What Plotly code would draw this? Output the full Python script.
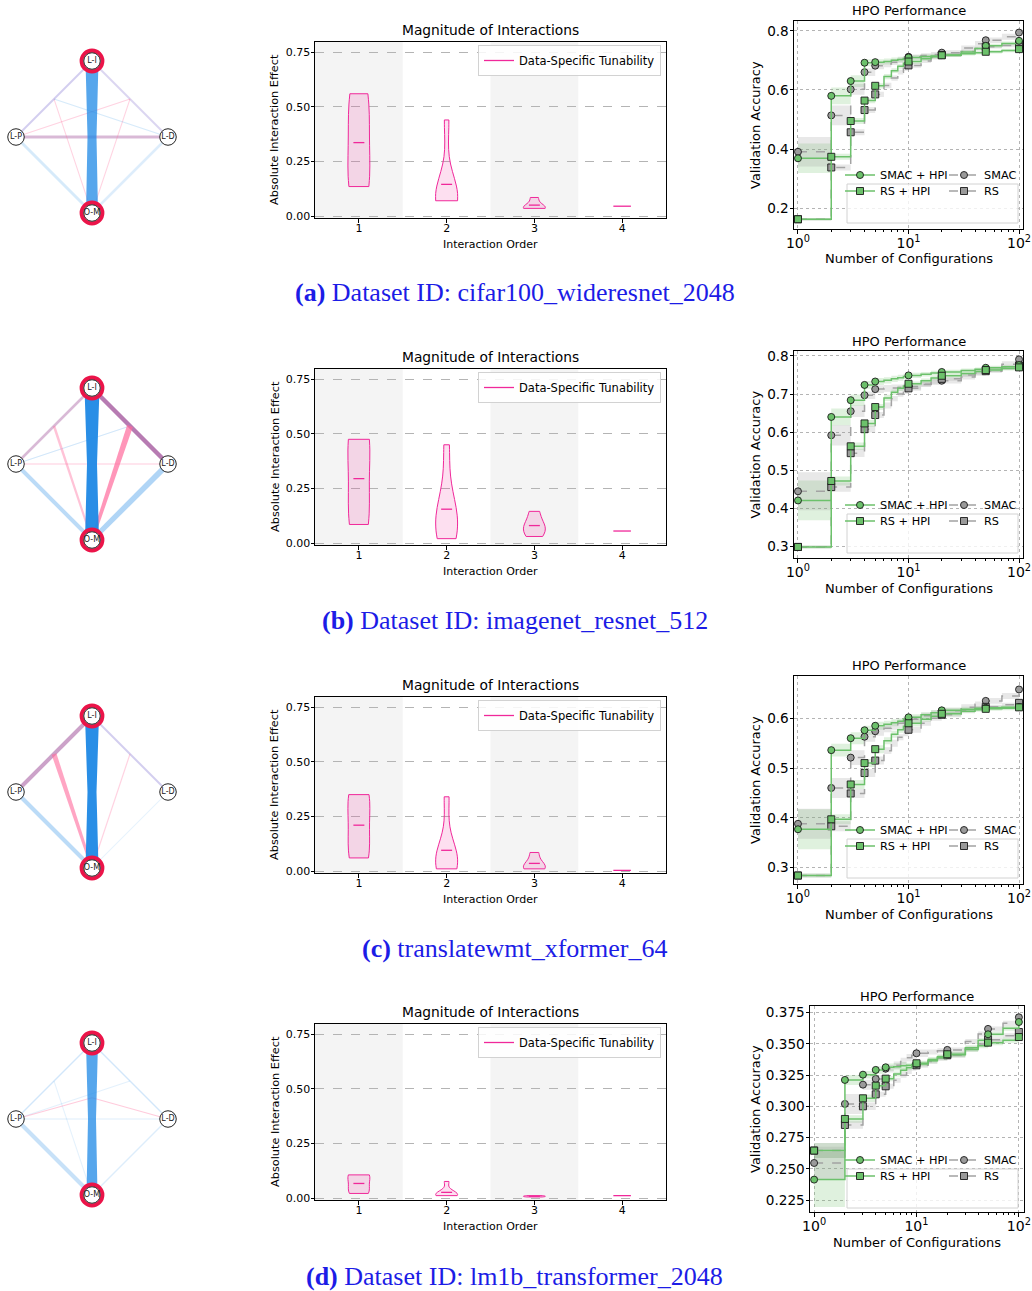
import numpy as np
import plotly.graph_objects as go

W, H = 1032, 1291

# ================= DATA =================
# --- interaction graphs ---
hyperparams = ["L-I", "L-P", "L-D", "O-M"]
highlighted = ["L-I", "O-M"]
# edge: (end A, end B, strength at A, strength mid, strength at B, colour key, opacity)
# "X+Y" = midpoint of X and Y ; "X>Y@t" = point at fraction t from X to Y
edges_a = [
    ("L-P", "O-M", 3, 3, 3, "blue", 0.18),
    ("L-D", "O-M", 2.5, 2.5, 2.5, "blue", 0.15),
    ("L-I", "L-P", 2, 2, 2, "lav", 0.55),
    ("L-I", "L-D", 2, 2, 2, "lav", 0.45),
    ("L-P", "L-D", 3, 3, 3, "purple", 0.45),
    ("L-I+L-P", "O-M", 1, 1, 1, "pink", 0.3),
    ("L-I+L-D", "O-M", 1, 1, 1, "pink", 0.3),
    ("L-P", "L-I+L-D", 1, 1, 1, "pink", 0.3),
    ("L-I+L-P", "L-D", 1, 1, 1, "blue", 0.18),
    ("L-I", "O-M", 13, 9, 12, "blue", 0.75),
]
edges_b = [
    ("L-P", "O-M", 4, 4, 4, "blue", 0.3),
    ("L-D", "O-M", 6, 5, 5, "blue", 0.35),
    ("L-P", "L-D", 1.2, 1.2, 1.2, "pink", 0.35),
    ("L-P", "L-I+L-D", 1.2, 1.2, 1.2, "blue", 0.2),
    ("L-I", "L-P", 2.5, 2.5, 2.5, "purple", 0.45),
    ("L-I+L-P", "O-M", 2.5, 2.5, 2, "pink", 0.4),
    ("L-I", "L-D", 4.5, 4.5, 4.5, "purple", 0.85),
    ("L-I+L-D", "O-M", 6, 4.5, 3, "pink", 0.7),
    ("L-I", "O-M", 15, 10, 14, "blue", 0.95),
]
edges_c = [
    ("L-D", "O-M", 1, 1, 1, "blue", 0.12),
    ("L-P", "O-M", 4, 4, 4, "blue", 0.3),
    ("L-I", "L-D", 2, 2, 2, "lav", 0.55),
    ("L-I+L-D", "O-M", 1.2, 1.2, 1.2, "pink", 0.3),
    ("L-I", "L-P", 4, 4, 4, "purple", 0.6),
    ("L-I+L-P", "O-M", 5, 3.5, 2.5, "pink", 0.6),
    ("L-I", "O-M", 14, 9, 13, "blue", 0.95),
]
edges_d = [
    ("L-P", "O-M", 4, 4, 4, "blue", 0.25),
    ("L-I", "L-P", 1.5, 1.5, 1.5, "blue", 0.2),
    ("L-I", "L-D", 1.5, 1.5, 1.5, "blue", 0.2),
    ("L-D", "O-M", 1.5, 1.5, 1.5, "blue", 0.15),
    ("L-P", "L-D", 1.2, 1.2, 1.2, "blue", 0.15),
    ("L-P", "L-I+L-D", 1, 1, 1, "blue", 0.12),
    ("L-I+L-P", "O-M", 1, 1, 1, "blue", 0.12),
    ("L-P", "L-I>O-M@0.36", 1.2, 1.2, 1.2, "pink", 0.35),
    ("L-D", "L-I>O-M@0.36", 1.2, 1.2, 1.2, "pink", 0.35),
    ("L-I", "O-M", 12, 8, 11, "blue", 0.75),
]

# --- magnitude of interactions (values per interaction order) ---
orders = [1, 2, 3, 4]
vio_a = [[0.135, 0.20, 0.45, 0.56], [0.07, 0.08, 0.09, 0.10, 0.09, 0.44], [0.035, 0.04, 0.04, 0.085], [0.045]]
vio_b = [[0.085, 0.17, 0.45, 0.475], [0.02, 0.05, 0.08, 0.13, 0.20, 0.45], [0.03, 0.07, 0.075, 0.145], [0.055]]
vio_c = [[0.06, 0.12, 0.31, 0.35], [0.01, 0.02, 0.04, 0.06, 0.10, 0.34], [0.01, 0.015, 0.03, 0.085], [0.003]]
vio_d = [[0.021, 0.04, 0.10, 0.106], [0.011, 0.012, 0.015, 0.018, 0.024, 0.076], [0.005, 0.007, 0.009, 0.011], [0.011]]

# --- HPO performance ---
configs = [1, 2, 3, 4, 5, 6, 7, 8, 9, 10, 13, 16, 20, 30, 40, 50, 70, 100]
marked_configs = [1, 2, 3, 4, 5, 10, 20, 50, 100]

smac_hpi_a = [0.369, 0.580, 0.630, 0.692, 0.694, 0.696, 0.700, 0.703, 0.706, 0.710, 0.713, 0.715, 0.718, 0.728, 0.740, 0.749, 0.757, 0.766]
smac_a     = [0.391, 0.514, 0.602, 0.660, 0.682, 0.688, 0.694, 0.700, 0.706, 0.712, 0.716, 0.720, 0.726, 0.742, 0.756, 0.768, 0.780, 0.794]
rs_hpi_a   = [0.163, 0.374, 0.495, 0.564, 0.614, 0.645, 0.665, 0.680, 0.690, 0.696, 0.705, 0.712, 0.717, 0.722, 0.726, 0.729, 0.733, 0.738]
rs_a       = [0.163, 0.338, 0.457, 0.532, 0.585, 0.615, 0.640, 0.660, 0.673, 0.683, 0.698, 0.710, 0.718, 0.730, 0.740, 0.746, 0.750, 0.754]
smac_hpi_a_err = [0.050, 0.028, 0.020, 0.012, 0.010, 0.010, 0.010, 0.009, 0.009, 0.008, 0.008, 0.007, 0.007, 0.007, 0.007, 0.007, 0.007, 0.007]
smac_a_err     = [0.050, 0.033, 0.018, 0.013, 0.012, 0.011, 0.010, 0.010, 0.009, 0.008, 0.008, 0.008, 0.008, 0.008, 0.009, 0.009, 0.010, 0.010]
rs_hpi_a_err   = [0.004, 0.010, 0.010, 0.009, 0.009, 0.009, 0.008, 0.008, 0.008, 0.008, 0.007, 0.007, 0.006, 0.006, 0.006, 0.006, 0.006, 0.006]
rs_a_err       = [0.004, 0.010, 0.010, 0.010, 0.009, 0.009, 0.009, 0.008, 0.008, 0.008, 0.007, 0.007, 0.006, 0.006, 0.006, 0.006, 0.006, 0.006]

smac_hpi_b = [0.421, 0.640, 0.684, 0.724, 0.733, 0.736, 0.740, 0.743, 0.746, 0.749, 0.752, 0.755, 0.758, 0.762, 0.765, 0.769, 0.772, 0.776]
smac_b     = [0.445, 0.592, 0.655, 0.697, 0.713, 0.715, 0.716, 0.717, 0.718, 0.720, 0.726, 0.731, 0.735, 0.745, 0.755, 0.765, 0.778, 0.791]
rs_hpi_b   = [0.299, 0.472, 0.563, 0.623, 0.666, 0.690, 0.705, 0.715, 0.721, 0.727, 0.735, 0.742, 0.748, 0.754, 0.759, 0.763, 0.767, 0.770]
rs_b       = [0.299, 0.456, 0.545, 0.608, 0.645, 0.670, 0.688, 0.700, 0.708, 0.715, 0.725, 0.733, 0.740, 0.750, 0.756, 0.760, 0.768, 0.775]
smac_hpi_b_err = [0.052, 0.022, 0.015, 0.010, 0.009, 0.008, 0.008, 0.008, 0.007, 0.007, 0.006, 0.006, 0.006, 0.005, 0.005, 0.005, 0.005, 0.005]
smac_b_err     = [0.050, 0.027, 0.015, 0.010, 0.010, 0.009, 0.009, 0.008, 0.008, 0.008, 0.007, 0.007, 0.007, 0.007, 0.007, 0.007, 0.008, 0.008]
rs_hpi_b_err   = [0.004, 0.012, 0.010, 0.009, 0.008, 0.008, 0.007, 0.007, 0.007, 0.006, 0.006, 0.006, 0.005, 0.005, 0.005, 0.005, 0.005, 0.005]
rs_b_err       = [0.004, 0.012, 0.010, 0.009, 0.008, 0.008, 0.007, 0.007, 0.007, 0.006, 0.006, 0.006, 0.005, 0.005, 0.005, 0.005, 0.005, 0.005]

smac_hpi_c = [0.377, 0.536, 0.560, 0.576, 0.585, 0.588, 0.591, 0.594, 0.598, 0.602, 0.607, 0.611, 0.616, 0.618, 0.620, 0.621, 0.622, 0.623]
smac_c     = [0.388, 0.460, 0.521, 0.563, 0.574, 0.580, 0.585, 0.590, 0.594, 0.598, 0.605, 0.610, 0.615, 0.622, 0.628, 0.635, 0.645, 0.658]
rs_hpi_c   = [0.284, 0.397, 0.467, 0.510, 0.538, 0.555, 0.568, 0.577, 0.584, 0.590, 0.598, 0.604, 0.609, 0.614, 0.617, 0.619, 0.620, 0.622]
rs_c       = [0.284, 0.383, 0.449, 0.490, 0.515, 0.535, 0.550, 0.562, 0.570, 0.577, 0.590, 0.600, 0.607, 0.615, 0.620, 0.623, 0.627, 0.631]
smac_hpi_c_err = [0.040, 0.013, 0.012, 0.009, 0.008, 0.007, 0.007, 0.006, 0.006, 0.006, 0.005, 0.005, 0.005, 0.005, 0.004, 0.004, 0.004, 0.004]
smac_c_err     = [0.030, 0.020, 0.015, 0.010, 0.009, 0.008, 0.008, 0.007, 0.007, 0.007, 0.006, 0.006, 0.006, 0.006, 0.006, 0.006, 0.006, 0.006]
rs_hpi_c_err   = [0.004, 0.010, 0.009, 0.008, 0.008, 0.007, 0.007, 0.006, 0.006, 0.006, 0.005, 0.005, 0.005, 0.004, 0.004, 0.004, 0.004, 0.004]
rs_c_err       = [0.004, 0.010, 0.009, 0.008, 0.008, 0.007, 0.007, 0.006, 0.006, 0.006, 0.005, 0.005, 0.005, 0.004, 0.004, 0.004, 0.004, 0.004]

smac_hpi_d = [0.2415, 0.3212, 0.3254, 0.3292, 0.3313, 0.3318, 0.3325, 0.3330, 0.3335, 0.3340, 0.3365, 0.3390, 0.3414, 0.3470, 0.3530, 0.3577, 0.3625, 0.3675]
smac_d     = [0.2548, 0.3020, 0.3174, 0.3220, 0.3302, 0.3330, 0.3360, 0.3390, 0.3410, 0.3425, 0.3435, 0.3445, 0.3452, 0.3520, 0.3580, 0.3620, 0.3665, 0.3713]
rs_hpi_d   = [0.2647, 0.2900, 0.3065, 0.3166, 0.3222, 0.3260, 0.3290, 0.3310, 0.3330, 0.3345, 0.3375, 0.3398, 0.3417, 0.3455, 0.3485, 0.3510, 0.3530, 0.3555]
rs_d       = [0.2647, 0.2852, 0.3001, 0.3097, 0.3161, 0.3210, 0.3250, 0.3280, 0.3305, 0.3329, 0.3360, 0.3385, 0.3409, 0.3460, 0.3500, 0.3534, 0.3565, 0.3595]
smac_hpi_d_err = [0.022, 0.004, 0.003, 0.003, 0.003, 0.003, 0.003, 0.002, 0.002, 0.002, 0.002, 0.002, 0.002, 0.002, 0.002, 0.002, 0.002, 0.002]
smac_d_err     = [0.013, 0.008, 0.004, 0.003, 0.003, 0.003, 0.003, 0.003, 0.003, 0.003, 0.002, 0.002, 0.002, 0.002, 0.002, 0.002, 0.002, 0.002]
rs_hpi_d_err   = [0.006, 0.003, 0.003, 0.002, 0.002, 0.002, 0.002, 0.002, 0.002, 0.002, 0.002, 0.002, 0.002, 0.002, 0.002, 0.002, 0.002, 0.002]
rs_d_err       = [0.006, 0.003, 0.003, 0.002, 0.002, 0.002, 0.002, 0.002, 0.002, 0.002, 0.002, 0.002, 0.002, 0.002, 0.002, 0.002, 0.002, 0.002]

series_names = ["SMAC + HPI", "SMAC", "RS + HPI", "RS"]
captions = [
    "<b>(a)</b> Dataset ID: cifar100_wideresnet_2048",
    "<b>(b)</b> Dataset ID: imagenet_resnet_512",
    "<b>(c)</b> translatewmt_xformer_64",
    "<b>(d)</b> Dataset ID: lm1b_transformer_2048",
]

rows = [
    dict(edges=edges_a, vio=vio_a, hpo=[smac_hpi_a, smac_a, rs_hpi_a, rs_a],
         err=[smac_hpi_a_err, smac_a_err, rs_hpi_a_err, rs_a_err]),
    dict(edges=edges_b, vio=vio_b, hpo=[smac_hpi_b, smac_b, rs_hpi_b, rs_b],
         err=[smac_hpi_b_err, smac_b_err, rs_hpi_b_err, rs_b_err]),
    dict(edges=edges_c, vio=vio_c, hpo=[smac_hpi_c, smac_c, rs_hpi_c, rs_c],
         err=[smac_hpi_c_err, smac_c_err, rs_hpi_c_err, rs_c_err]),
    dict(edges=edges_d, vio=vio_d, hpo=[smac_hpi_d, smac_d, rs_hpi_d, rs_d],
         err=[smac_hpi_d_err, smac_d_err, rs_hpi_d_err, rs_d_err]),
]

# ================= LAYOUT / STYLE =================
FONT = "DejaVu Sans"
SERIF = "Liberation Serif, Times New Roman, serif"
PINK = "#f0289a"
PINK_FILL = "rgba(240,40,154,0.15)"
GREEN = "#6cc16b"
GREEN_BAND = "rgba(108,193,107,0.22)"
GRAY = "#a3a3a3"
GRAY_MK = "#9a9a9a"
GRAY_BAND = "rgba(150,150,150,0.22)"
EDGE_RGB = {"blue": (30, 136, 229), "pink": (255, 105, 155), "purple": (170, 100, 165),
            "lav": (175, 165, 225)}

row_off = [0, 327, 655, 982]          # network + violin panels
hpo_top = [21, 351, 676, 1006]
hpo_bot = [229, 558, 884, 1212]
hpo_x = [(794, 1023), (794, 1023), (794, 1023), (810, 1024)]
hpo_xr = [(-0.036, 2.036)] * 3 + [(-0.04, 2.05)]
hpo_yr = [(0.13, 0.833), (0.270, 0.813), (0.267, 0.685), (0.2156, 0.3803)]
hpo_dtick = [(0.2, 0.2, ".1f"), (0.1, 0.3, ".1f"), (0.1, 0.3, ".1f"), (0.025, 0.225, ".3f")]
cap_y = [293, 620, 948, 1276]

# pull tick labels slightly closer to the axes (if this plotly version allows it)
try:
    go.layout.XAxis(ticklabelstandoff=-3)
    VX, VY, HX = {"ticklabelstandoff": -4}, {"ticklabelstandoff": -2}, {"ticklabelstandoff": -2}
except Exception:
    VX, VY, HX = {}, {}, {}


def px(xp):
    return xp / W


def py(yp):
    return 1 - yp / H


def axname(n):
    return "" if n == 1 else str(n)


fig = go.Figure()
layout = dict(width=W, height=H, margin=dict(l=0, r=0, t=0, b=0, autoexpand=False),
              paper_bgcolor="white", plot_bgcolor="white", violinmode="overlay",
              font=dict(family=FONT, color="black", size=11), hovermode=False)
shapes, annotations = [], []

for r, row in enumerate(rows):
    off = row_off[r]
    nN, nV, nH = 3 * r + 1, 3 * r + 2, 3 * r + 3
    xN, yN = "x" + axname(nN), "y" + axname(nN)
    xV, yV = "x" + axname(nV), "y" + axname(nV)
    xH, yH = "x" + axname(nH), "y" + axname(nH)
    lg0 = 5 * r + 1
    lgV = "legend" + axname(lg0)

    # ---------- network ----------
    layout["xaxis" + axname(nN)] = dict(domain=[0, px(186)], range=[0, 186], visible=False,
                                        anchor=yN, fixedrange=True, automargin=False)
    layout["yaxis" + axname(nN)] = dict(domain=[py(off + 236), py(off + 36)],
                                        range=[off + 236, off + 36], visible=False,
                                        anchor=xN, fixedrange=True, automargin=False)
    cx, cy, R = 92.0, 137.0 + off, 76.0
    ang = {"L-I": 90, "L-P": 180, "L-D": 0, "O-M": 270}
    pos = {h: np.array([cx + R * np.cos(np.radians(ang[h])), cy - R * np.sin(np.radians(ang[h]))])
           for h in hyperparams}

    def point(spec):
        if ">" in spec:
            ab, t = spec.split("@")
            a, b = ab.split(">")
            return pos[a] + float(t) * (pos[b] - pos[a])
        if "+" in spec:
            a, b = spec.split("+")
            return (pos[a] + pos[b]) / 2
        return pos[spec]

    for (ea, eb, wa, wm, wb, ck, al) in row["edges"]:
        p, q = point(ea), point(eb)
        d = q - p
        nrm = np.array([-d[1], d[0]]) / np.hypot(*d)
        m = (p + q) / 2
        pts = [p + nrm * wa / 2, m + nrm * wm / 2, q + nrm * wb / 2,
               q - nrm * wb / 2, m - nrm * wm / 2, p - nrm * wa / 2, p + nrm * wa / 2]
        c = EDGE_RGB[ck]
        fig.add_trace(go.Scatter(x=[t[0] for t in pts], y=[t[1] for t in pts], mode="lines",
                                 fill="toself", fillcolor=f"rgba({c[0]},{c[1]},{c[2]},{al})",
                                 line=dict(width=0), xaxis=xN, yaxis=yN, showlegend=False,
                                 hoverinfo="skip"))
    hl = [h for h in hyperparams if h in highlighted]
    fig.add_trace(go.Scatter(x=[pos[h][0] for h in hl], y=[pos[h][1] for h in hl], mode="markers",
                             marker=dict(size=21, color="white", line=dict(color="#eb1449", width=3.8)),
                             xaxis=xN, yaxis=yN, showlegend=False, hoverinfo="skip"))
    fig.add_trace(go.Scatter(x=[pos[h][0] for h in hyperparams], y=[pos[h][1] for h in hyperparams],
                             mode="markers+text", text=hyperparams, textposition="middle center",
                             textfont=dict(size=8, family=FONT, color="#222"),
                             marker=dict(size=16.5, color="white", line=dict(color="#222", width=1)),
                             xaxis=xN, yaxis=yN, showlegend=False, hoverinfo="skip"))

    # ---------- violin ----------
    layout["xaxis" + axname(nV)] = dict(domain=[px(315), px(666)], range=[0.5, 4.5], type="linear",
                                        anchor=yV, tickmode="array", tickvals=orders,
                                        ticks="outside", ticklen=3.5, tickcolor="black",
                                        showline=True, linecolor="black", linewidth=1, mirror=True,
                                        showgrid=False, zeroline=False, automargin=False,
                                        tickfont=dict(size=11, family=FONT), **VX)
    layout["yaxis" + axname(nV)] = dict(domain=[py(off + 218), py(off + 42)], range=[-0.009, 0.797],
                                        anchor=xV, tickmode="array", tickvals=[0, 0.25, 0.5, 0.75],
                                        tickformat=".2f", ticks="outside", ticklen=3.5,
                                        tickcolor="black", showline=True, linecolor="black",
                                        linewidth=1, mirror=True, showgrid=True,
                                        gridcolor="#b4b4b4", griddash="dash", gridwidth=0.8,
                                        zeroline=False, automargin=False,
                                        tickfont=dict(size=11, family=FONT), **VY)
    for band in (1, 3):
        shapes.append(dict(type="rect", xref=xV, yref=yV + " domain", x0=band - 0.5, x1=band + 0.5,
                           y0=0, y1=1, fillcolor="#f4f4f4", line=dict(width=0), layer="below"))
    first = True
    for k, vals in zip(orders, row["vio"]):
        v = np.array(vals, dtype=float)
        if len(v) > 1:
            bw = v.std(ddof=1) * len(v) ** (-0.2)
            fig.add_trace(go.Violin(x0=k, y=v, xaxis=xV, yaxis=yV, bandwidth=bw, spanmode="hard",
                                    width=0.25, scalemode="width", points=False,
                                    line=dict(color=PINK, width=1), fillcolor=PINK_FILL,
                                    box_visible=False, meanline_visible=False,
                                    showlegend=False, hoverinfo="skip", name=f"order {k}"))
        half = 0.0625 if len(v) > 1 else 0.1
        fig.add_trace(go.Scatter(x=[k - half, k + half], y=[v.mean(), v.mean()], mode="lines",
                                 line=dict(color=PINK, width=1.3), xaxis=xV, yaxis=yV,
                                 name="Data-Specific Tunability", showlegend=first, legend=lgV,
                                 hoverinfo="skip"))
        first = False
    layout[lgV] = dict(x=px(661), xanchor="right", y=py(off + 45), yanchor="top",
                       bgcolor="rgba(255,255,255,0.85)", bordercolor="#d2d2d2", borderwidth=1,
                       font=dict(size=11.5, family=FONT))
    annotations += [
        dict(text="Magnitude of Interactions", x=px(490.5), y=py(off + 30), xref="paper", yref="paper",
             showarrow=False, xanchor="center", yanchor="middle", font=dict(size=13.8, family=FONT)),
        dict(text="Interaction Order", x=px(490.5), y=py(off + 244), xref="paper", yref="paper",
             showarrow=False, xanchor="center", yanchor="middle", font=dict(size=11, family=FONT)),
        dict(text="Absolute Interaction Effect", x=px(275), y=py(off + 130), xref="paper",
             yref="paper", showarrow=False, textangle=-90, xanchor="center", yanchor="middle",
             font=dict(size=11.3, family=FONT)),
    ]

    # ---------- HPO performance ----------
    x0p, x1p = hpo_x[r]
    dt, t0, fmt = hpo_dtick[r]
    minor_vals = [m * 10 ** e for e in (0, 1) for m in range(2, 10)]
    layout["xaxis" + axname(nH)] = dict(domain=[px(x0p), px(x1p)], type="log", range=list(hpo_xr[r]),
                                        anchor=yH, tickmode="array", tickvals=[1, 10, 100],
                                        ticktext=["10<sup>0</sup>", "10<sup>1</sup>", "10<sup>2</sup>"],
                                        ticks="outside", ticklen=3.5, tickcolor="black",
                                        showline=True, linecolor="black", linewidth=1, mirror=True,
                                        showgrid=True, gridcolor="#b4b4b4", griddash="dot",
                                        gridwidth=0.8, zeroline=False, automargin=False,
                                        minor=dict(tickmode="array", tickvals=minor_vals,
                                                   ticks="outside", ticklen=2, tickcolor="black",
                                                   showgrid=False),
                                        tickfont=dict(size=14, family=FONT), **HX)
    layout["yaxis" + axname(nH)] = dict(domain=[py(hpo_bot[r]), py(hpo_top[r])], range=list(hpo_yr[r]),
                                        anchor=xH, tick0=t0, dtick=dt, tickformat=fmt,
                                        ticks="outside", ticklen=3.5, tickcolor="black",
                                        showline=True, linecolor="black", linewidth=1, mirror=True,
                                        showgrid=True, gridcolor="#b4b4b4", griddash="dot",
                                        gridwidth=0.8, zeroline=False, automargin=False,
                                        tickfont=dict(size=13.6, family=FONT), **VY)
    styles = [  # SMAC+HPI, SMAC, RS+HPI, RS
        dict(c=GREEN, mk=GREEN, band=GREEN_BAND, dash="solid", sym="circle"),
        dict(c=GRAY, mk=GRAY_MK, band=GRAY_BAND, dash="dash", sym="circle"),
        dict(c=GREEN, mk=GREEN, band=GREEN_BAND, dash="solid", sym="square"),
        dict(c=GRAY, mk=GRAY_MK, band=GRAY_BAND, dash="dash", sym="square"),
    ]
    # bands
    for vals, err, st in zip(row["hpo"], row["err"], styles):
        v, e = np.array(vals), np.array(err)
        fig.add_trace(go.Scatter(x=configs, y=v - e, mode="lines", line=dict(width=0, shape="hv"),
                                 xaxis=xH, yaxis=yH, showlegend=False, hoverinfo="skip"))
        fig.add_trace(go.Scatter(x=configs, y=v + e, mode="lines", line=dict(width=0, shape="hv"),
                                 fill="tonexty", fillcolor=st["band"], xaxis=xH, yaxis=yH,
                                 showlegend=False, hoverinfo="skip"))
    # lines + markers (baselines first, HPI on top)
    idx_mark = [configs.index(c) for c in marked_configs]
    for i in (1, 3, 0, 2):
        vals, st = row["hpo"][i], styles[i]
        fig.add_trace(go.Scatter(x=configs, y=vals, mode="lines",
                                 line=dict(color=st["c"], width=1.5, dash=st["dash"], shape="hv"),
                                 xaxis=xH, yaxis=yH, showlegend=False, hoverinfo="skip"))
        fig.add_trace(go.Scatter(x=marked_configs, y=[vals[j] for j in idx_mark], mode="markers",
                                 marker=dict(symbol=st["sym"], size=7, color=st["mk"],
                                             line=dict(color="#1a1a1a", width=0.9)),
                                 xaxis=xH, yaxis=yH, showlegend=False, hoverinfo="skip"))
    # legend (one single-entry legend per cell of the 2x2 legend grid)
    lg_cells = [(880, 154), (984, 154), (880, 170), (984, 170)]   # text-left x, centre y below frame top
    for i in range(4):
        lid = "legend" + axname(lg0 + 1 + i)
        st = styles[i]
        fig.add_trace(go.Scatter(x=[None], y=[None], mode="lines+markers", name=series_names[i],
                                 line=dict(color=st["c"], width=1.5, dash=st["dash"]),
                                 marker=dict(symbol=st["sym"], size=7, color=st["mk"],
                                             line=dict(color="#1a1a1a", width=0.9)),
                                 xaxis=xH, yaxis=yH, legend=lid, showlegend=True))
        tx, ty = lg_cells[i]
        layout[lid] = dict(x=px(tx - 40), xanchor="left", y=py(hpo_top[r] + ty), yanchor="middle",
                           bgcolor="rgba(0,0,0,0)", borderwidth=0,
                           font=dict(size=11.3, family=FONT))
    shapes.append(dict(type="rect", xref="paper", yref="paper", x0=px(847), x1=px(1018),
                       y0=py(hpo_top[r] + 202), y1=py(hpo_top[r] + 163),
                       fillcolor="rgba(255,255,255,0.8)", line=dict(color="#d2d2d2", width=1),
                       layer="above"))
    hc = (x0p + x1p) / 2
    annotations += [
        dict(text="HPO Performance", x=px(hc), y=py(hpo_top[r] - 10), xref="paper", yref="paper",
             showarrow=False, xanchor="center", yanchor="middle", font=dict(size=13, family=FONT)),
        dict(text="Number of Configurations", x=px(hc), y=py(hpo_bot[r] + 30), xref="paper",
             yref="paper", showarrow=False, xanchor="center", yanchor="middle",
             font=dict(size=13, family=FONT)),
        dict(text="Validation Accuracy", x=px(755), y=py((hpo_top[r] + hpo_bot[r]) / 2),
             xref="paper", yref="paper", showarrow=False, textangle=-90, xanchor="center",
             yanchor="middle", font=dict(size=13, family=FONT)),
    ]

    # ---------- caption ----------
    annotations.append(dict(text=captions[r], x=px(514.5), y=py(cap_y[r]), xref="paper",
                            yref="paper", showarrow=False, xanchor="center", yanchor="middle",
                            font=dict(size=26, family=SERIF, color="#1c1ce6")))

layout["shapes"] = shapes
layout["annotations"] = annotations
fig.update_layout(**layout)
fig.write_html("out.html")
